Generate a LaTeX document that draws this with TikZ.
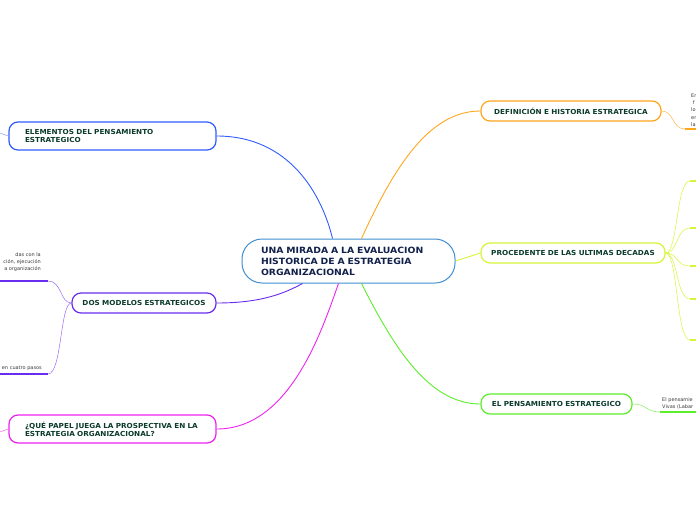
\documentclass[tikz,border=0pt]{standalone}
\usepackage{fontspec}
\setmainfont{DejaVu Sans}
\newfontfamily\widesans{DejaVu Sans}[FakeStretch=1.08]
\newfontfamily\topicsans{DejaVu Sans}[FakeStretch=1.05]
\usepackage{tikz}
\usetikzlibrary{positioning}

\definecolor{centreblue}{HTML}{3F8FD2}
\definecolor{brblue}{HTML}{2F5BFF}
\definecolor{brorange}{HTML}{FFA51E}
\definecolor{bryellow}{HTML}{D6F53A}
\definecolor{brgreen}{HTML}{5CEE2A}
\definecolor{brpurple}{HTML}{6A2CEE}
\definecolor{brpink}{HTML}{EE22EE}
\definecolor{topictext}{HTML}{0B3B2B}
\definecolor{centretext}{HTML}{12214C}
\definecolor{subtext}{HTML}{3A3A3A}

\begin{document}
\begin{tikzpicture}[
  x=1pt, y=-1pt,
  centre/.style={draw=centreblue, line width=1pt, rounded corners=20pt, fill=white,
                 text width=175pt, inner xsep=19pt, inner ysep=0pt, minimum height=44pt,
                 align=left, text=centretext, font=\widesans\fontsize{8.6}{11}\selectfont\bfseries},
  topic/.style={line width=1.2pt, rounded corners=9pt, fill=white, inner ysep=0pt,
                text=topictext, font=\topicsans\fontsize{6.9}{8}\selectfont\bfseries},
  twoline/.style={topic, text width=175pt, inner xsep=16pt, minimum height=28pt, align=left},
  oneline/.style={topic, inner xsep=0pt, minimum height=20pt, align=center},
  branch/.style={line width=0.9pt},
  twig/.style={line width=0.5pt},
  uline/.style={line width=1.6pt},
  subtxt/.style={font=\fontsize{5}{7.2}\selectfont, text=subtext, inner sep=0pt}
]
  \useasboundingbox (0,0) rectangle (696,520);

  % main idea and topics
  \node[centre] (cen) at (348.5,261)
    {UNA MIRADA A LA EVALUACION\\HISTORICA DE A ESTRATEGIA\\ORGANIZACIONAL};
  \node[twoline, draw=brblue] (elem) at (112.5,136)
    {ELEMENTOS DEL PENSAMIENTO\\ESTRATEGICO};
  \node[oneline, draw=brpurple, text width=144pt] (dos) at (144,303)
    {DOS MODELOS ESTRATEGICOS};
  \node[twoline, draw=brpink] (papel) at (112.5,429)
    {¿QUÉ PAPEL JUEGA LA PROSPECTIVA EN LA\\ESTRATEGIA ORGANIZACIONAL?};
  \node[oneline, draw=brorange, text width=180pt] (defi) at (571,111)
    {DEFINICIÓN E HISTORIA ESTRATEGICA};
  \node[oneline, draw=bryellow, text width=184pt] (proc) at (573,253)
    {PROCEDENTE DE LAS ULTIMAS DECADAS};
  \node[oneline, draw=brgreen, text width=151pt] (pens) at (556.5,404)
    {EL PENSAMIENTO ESTRATEGICO};

  % branches from the centre
  \draw[branch, brblue] (elem.east) .. controls (290,136) and (322,195) .. ([xshift=-16pt]cen.north);
  \draw[branch, brorange] ([xshift=13pt]cen.north) .. controls (395,165) and (430,111) .. (defi.west);
  \draw[branch, bryellow] (cen.east) -- (proc.west);
  \draw[branch, brgreen] ([xshift=13pt]cen.south) .. controls (395,350) and (430,404) .. (pens.west);
  \draw[branch, brpurple] (dos.east) .. controls (262,303) and (285,293) .. ([xshift=-46pt]cen.south);
  \draw[branch, brpink] (papel.east) .. controls (290,429) and (322,330) .. ([xshift=-10pt]cen.south);

  % left side subtopics
  \coordinate (elemout) at (0,133);
  \draw[twig, brblue!60] (elem.west) .. controls (5,136) and (3,133) .. (elemout);
  \coordinate (papelout) at (0,432);
  \draw[twig, brpink!70] (papel.west) .. controls (5,429) and (3,432) .. (papelout);

  \coordinate (dosa) at (48,281);
  \coordinate (dosb) at (48,374);
  \coordinate (dosaend) at (0,281);
  \coordinate (dosbend) at (0,374);
  \draw[twig, brpurple!70] (dos.west) .. controls (60,303) and (62,281) .. (dosa);
  \draw[twig, brpurple!70] (dos.west) .. controls (60,303) and (62,374) .. (dosb);
  \draw[uline, brpurple] (dosa) -- (dosaend);
  \draw[uline, brpurple] (dosb) -- (dosbend);
  \node[subtxt, align=right, anchor=south east] (dosatxt) at (41,272)
    {das con la\\ción, ejecución\\a organización};
  \node[subtxt, anchor=south east] (dosbtxt) at (42,371) {en cuatro pasos};

  % right side subtopics
  \coordinate (defia) at (685,129);
  \coordinate (defiend) at (696,129);
  \draw[twig, brorange!80] (defi.east) .. controls (674,111) and (672,129) .. (defia);
  \draw[uline, brorange] (defia) -- (defiend);
  \node[subtxt, align=left, anchor=south west] (defitxt) at (691,126.5)
    {En\\\ f\\lo\\en\\la};

  \foreach \y [count=\i] in {181,228,266,299,340}{
    \coordinate (proc\i) at (690,\y);
    \coordinate (procend\i) at (696,\y);
    \draw[twig, bryellow] (proc.east) .. controls (678,253) and (676,\y) .. (proc\i);
    \draw[uline, bryellow] (proc\i) -- (procend\i);
  }

  \coordinate (pensa) at (660,412);
  \coordinate (pensend) at (696,412);
  \draw[twig, brgreen!80] (pens.east) .. controls (647,404) and (646,412) .. (pensa);
  \draw[uline, brgreen] (pensa) -- (pensend);
  \node[subtxt, align=left, anchor=south west] (penstxt) at (662,409.5)
    {El pensamie\\Vivas (Labar};
\end{tikzpicture}
\end{document}
